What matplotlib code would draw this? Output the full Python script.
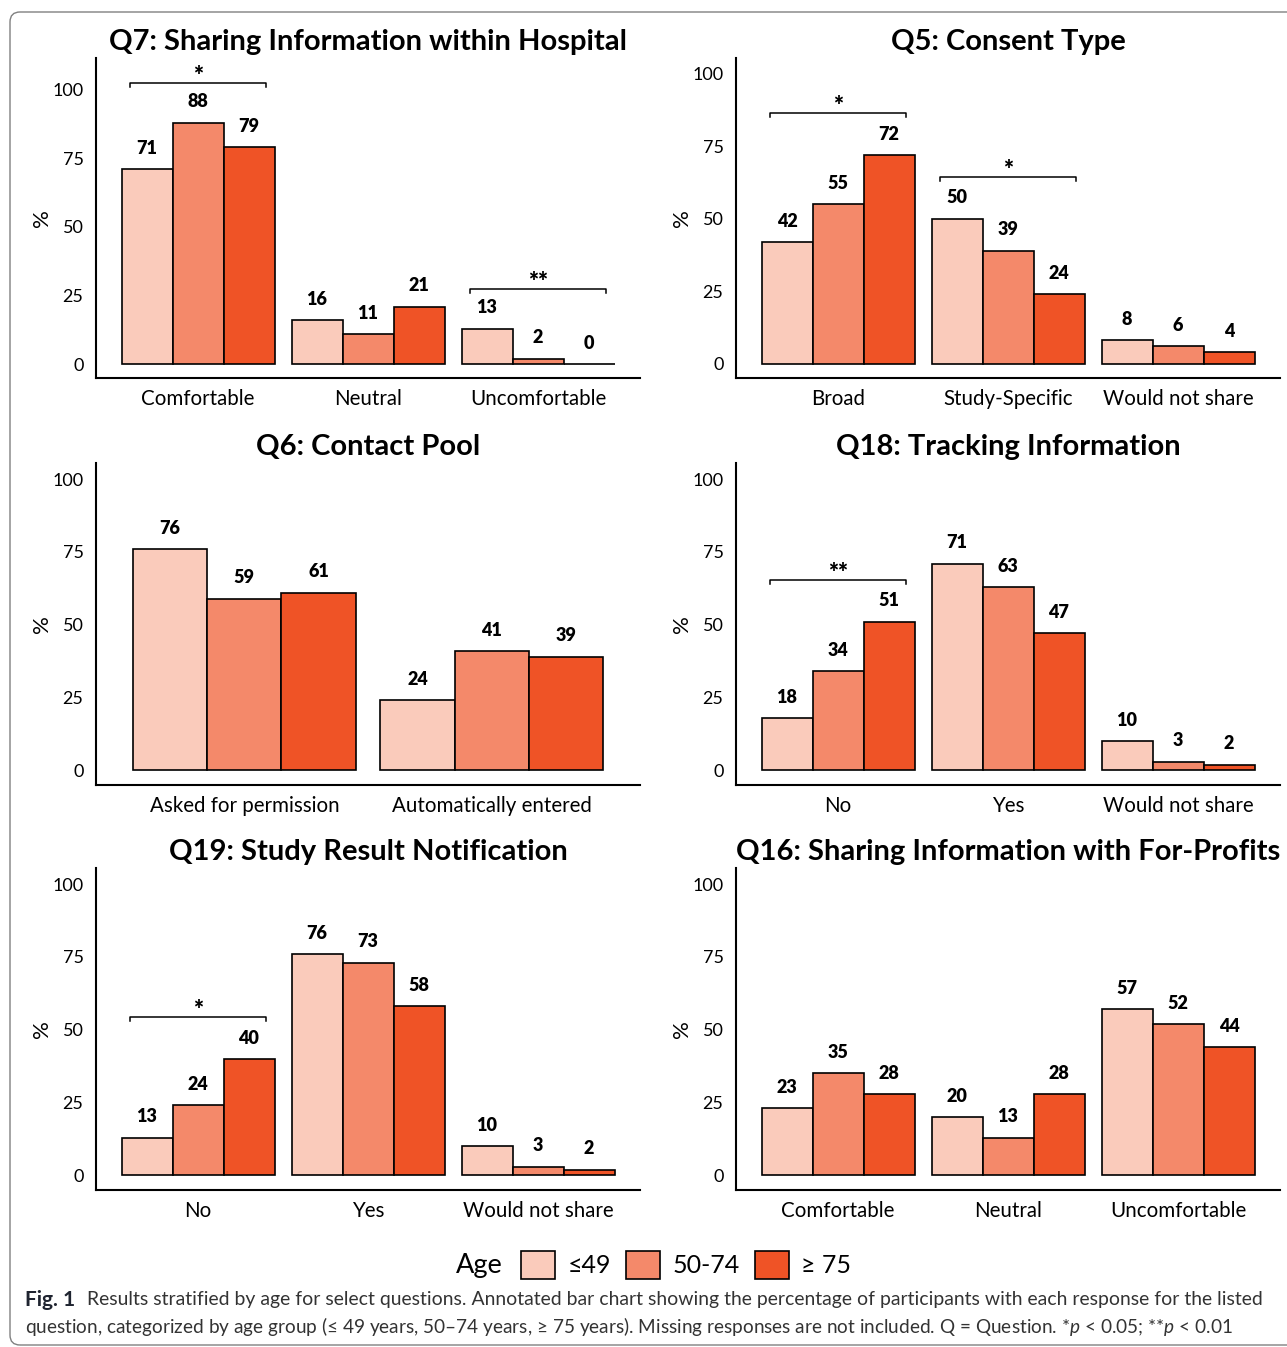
import numpy as np
import matplotlib
matplotlib.use('Agg')
import matplotlib.pyplot as plt
from matplotlib.patches import Patch, FancyBboxPatch
from matplotlib.transforms import IdentityTransform

plt.rcParams['font.family'] = ['Lato', 'DejaVu Sans']
plt.rcParams['mathtext.fontset'] = 'custom'
plt.rcParams['mathtext.rm'] = 'Lato'
plt.rcParams['mathtext.it'] = 'Lato:italic'

age_groups = ['≤49', '50-74', '≥ 75']
age_colors = ['#FACBBB', '#F4896A', '#EF5326']

# Q7: Sharing Information within Hospital
q7_cats = ['Comfortable', 'Neutral', 'Uncomfortable']
q7_le49 = [71, 16, 13]
q7_50_74 = [88, 11, 2]
q7_ge75 = [79, 21, 0]
q7_sig = {0: '*', 2: '**'}

# Q5: Consent Type
q5_cats = ['Broad', 'Study-Specific', 'Would not share']
q5_le49 = [42, 50, 8]
q5_50_74 = [55, 39, 6]
q5_ge75 = [72, 24, 4]
q5_sig = {0: '*', 1: '*'}

# Q6: Contact Pool
q6_cats = ['Asked for permission', 'Automatically entered']
q6_le49 = [76, 24]
q6_50_74 = [59, 41]
q6_ge75 = [61, 39]
q6_sig = {}

# Q18: Tracking Information
q18_cats = ['No', 'Yes', 'Would not share']
q18_le49 = [18, 71, 10]
q18_50_74 = [34, 63, 3]
q18_ge75 = [51, 47, 2]
q18_sig = {0: '**'}

# Q19: Study Result Notification
q19_cats = ['No', 'Yes', 'Would not share']
q19_le49 = [13, 76, 10]
q19_50_74 = [24, 73, 3]
q19_ge75 = [40, 58, 2]
q19_sig = {0: '*'}

# Q16: Sharing Information with For-Profits
q16_cats = ['Comfortable', 'Neutral', 'Uncomfortable']
q16_le49 = [23, 20, 57]
q16_50_74 = [35, 13, 52]
q16_ge75 = [28, 28, 44]
q16_sig = {}

W, H = 1287, 1347
fig = plt.figure(figsize=(W / 100, H / 100), dpi=100)


def add_axes(x0, y0, x1, y1):
    return fig.add_axes([x0 / W, 1 - y1 / H, (x1 - x0) / W, (y1 - y0) / H])


def draw_panel(ax, title, cats, series, sig, ytop):
    x = np.arange(len(cats))
    w = 0.3
    for i, (vals, col) in enumerate(zip(series, age_colors)):
        pos = x + (i - 1) * w
        ax.bar(pos, vals, width=w, color=col, edgecolor='black', linewidth=1.2)
        for p, v in zip(pos, vals):
            ax.annotate(str(v), (p, v), xytext=(0, 15), textcoords='offset points',
                        ha='center', va='center', fontsize=13, fontweight='heavy')
    # significance brackets over the age groups of one answer
    for g, stars in sig.items():
        top = max(s[g] for s in series) + 14.5
        ax.plot([g - 0.4, g - 0.4, g + 0.4, g + 0.4], [top - 1.5, top, top, top - 1.5],
                color='black', lw=1.1)
        ax.annotate(stars, (g, top), xytext=(0, 5), textcoords='offset points',
                    ha='center', va='center', fontsize=17, fontweight='heavy')
    ax.set_xlim(-0.6, len(cats) - 0.4)
    ax.set_ylim(-5, ytop)
    ax.set_yticks([0, 25, 50, 75, 100])
    ax.set_xticks(x, cats)
    for lab in ax.get_yticklabels():
        lab.set_fontsize(13)
    for lab in ax.get_xticklabels():
        lab.set_fontsize(14.8)
    ax.tick_params(length=0)
    ax.tick_params(axis='y', pad=9)
    ax.tick_params(axis='x', pad=8)
    for side in ['top', 'right']:
        ax.spines[side].set_visible(False)
    for side in ['left', 'bottom']:
        ax.spines[side].set_linewidth(1.5)
    ax.set_ylabel('%', fontsize=16, labelpad=0)
    ax.set_title(title, fontsize=21, fontweight='bold', pad=6)


panels = [
    ('Q7: Sharing Information within Hospital', q7_cats,
     [q7_le49, q7_50_74, q7_ge75], q7_sig, 111.5, (96, 58, 640, 378)),
    ('Q5: Consent Type', q5_cats,
     [q5_le49, q5_50_74, q5_ge75], q5_sig, 105.5, (736, 58, 1280, 378)),
    ('Q6: Contact Pool', q6_cats,
     [q6_le49, q6_50_74, q6_ge75], q6_sig, 105.5, (96, 463, 640, 785)),
    ('Q18: Tracking Information', q18_cats,
     [q18_le49, q18_50_74, q18_ge75], q18_sig, 105.5, (736, 463, 1280, 785)),
    ('Q19: Study Result Notification', q19_cats,
     [q19_le49, q19_50_74, q19_ge75], q19_sig, 105.5, (96, 868, 640, 1190)),
    ('Q16: Sharing Information with For-Profits', q16_cats,
     [q16_le49, q16_50_74, q16_ge75], q16_sig, 105.5, (736, 868, 1280, 1190)),
]

for title, cats, series, sig, ytop, box in panels:
    ax = add_axes(*box)
    draw_panel(ax, title, cats, series, sig, ytop)

# legend row
fig.text(503 / W, 1 - 1265 / H, 'Age', ha='right', va='center', fontsize=19.5)
handles = [Patch(facecolor=c, edgecolor='black', linewidth=1.2) for c in age_colors]
fig.legend(handles, age_groups, loc='center', bbox_to_anchor=(686 / W, 1 - 1265 / H),
           ncol=3, frameon=False, fontsize=18, handlelength=1.36, handleheight=1.36,
           handletextpad=0.5, columnspacing=0.6, borderpad=0, borderaxespad=0)

# caption
fig.text(25 / W, 1 - 1300 / H, 'Fig. 1', ha='left', va='center', fontsize=15,
         fontweight='bold', color='#1f2430')
fig.text(87 / W, 1 - 1300 / H,
         'Results stratified by age for select questions. Annotated bar chart showing the '
         'percentage of participants with each response for the listed',
         ha='left', va='center', fontsize=13.95, color='#333333')
fig.text(25 / W, 1 - 1327 / H,
         'question, categorized by age group (≤ 49 years, 50–74 years, ≥ 75 years). '
         'Missing responses are not included. Q = Question. *$p$ < 0.05; **$p$ < 0.01',
         ha='left', va='center', fontsize=13.7, color='#333333')

# rounded frame around the figure
frame = FancyBboxPatch((10, H - 1345), 1300, 1333, boxstyle='round,pad=0,rounding_size=10',
                       transform=IdentityTransform(), facecolor='none',
                       edgecolor='#808080', linewidth=1.0)
fig.patches.append(frame)

fig.savefig('out.png', dpi=100)
